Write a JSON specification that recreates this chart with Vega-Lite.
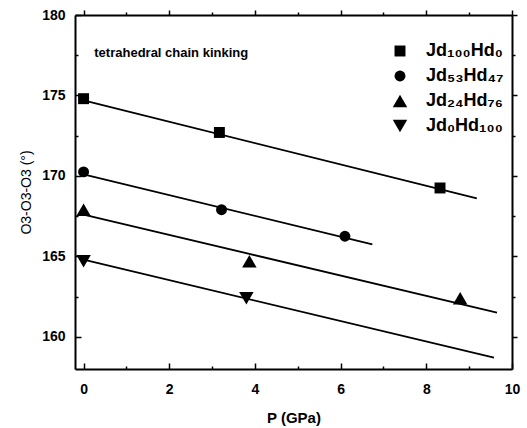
{
  "$schema": "https://vega.github.io/schema/vega-lite/v6.json",
  "width": 437,
  "height": 354,
  "autosize": {"type": "none"},
  "padding": {"left": 75, "top": 15, "right": 15, "bottom": 59},
  "background": "white",
  "config": {
    "font": "Liberation Sans",
    "axis": {
      "domainColor": "black",
      "domainWidth": 2,
      "tickColor": "black",
      "tickWidth": 1.5,
      "grid": false,
      "labelFlush": false,
      "labelColor": "black",
      "labelFont": "Liberation Sans",
      "labelFontSize": 14,
      "labelFontWeight": "bold",
      "titleColor": "black",
      "titleFont": "Liberation Sans"
    },
    "legend": {
      "orient": "none",
      "legendX": 316,
      "legendY": 27,
      "padding": 0,
      "labelFont": "Liberation Sans",
      "labelFontSize": 18,
      "labelFontWeight": "bold",
      "labelColor": "black",
      "symbolFillColor": "black",
      "symbolStrokeColor": "black",
      "symbolStrokeWidth": 0,
      "rowPadding": 7,
      "labelOffset": 17
    }
  },
  "datasets": {
    "points": [
      {"P": 0, "angle": 174.8, "series": "Jd₁₀₀Hd₀"},
      {"P": 3.17, "angle": 172.7, "series": "Jd₁₀₀Hd₀"},
      {"P": 8.32, "angle": 169.25, "series": "Jd₁₀₀Hd₀"},
      {"P": 0, "angle": 170.25, "series": "Jd₅₃Hd₄₇"},
      {"P": 3.22, "angle": 167.9, "series": "Jd₅₃Hd₄₇"},
      {"P": 6.1, "angle": 166.25, "series": "Jd₅₃Hd₄₇"},
      {"P": 0, "angle": 167.9, "series": "Jd₂₄Hd₇₆"},
      {"P": 3.87, "angle": 164.7, "series": "Jd₂₄Hd₇₆"},
      {"P": 8.79, "angle": 162.4, "series": "Jd₂₄Hd₇₆"},
      {"P": 0, "angle": 164.7, "series": "Jd₀Hd₁₀₀"},
      {"P": 3.8, "angle": 162.4, "series": "Jd₀Hd₁₀₀"}
    ],
    "lines": [
      {"P": 0, "angle": 174.7, "series": "Jd₁₀₀Hd₀"},
      {"P": 9.18, "angle": 168.6, "series": "Jd₁₀₀Hd₀"},
      {"P": 0, "angle": 170.1, "series": "Jd₅₃Hd₄₇"},
      {"P": 6.74, "angle": 165.75, "series": "Jd₅₃Hd₄₇"},
      {"P": 0, "angle": 167.6, "series": "Jd₂₄Hd₇₆"},
      {"P": 9.65, "angle": 161.5, "series": "Jd₂₄Hd₇₆"},
      {"P": 0, "angle": 164.8, "series": "Jd₀Hd₁₀₀"},
      {"P": 9.58, "angle": 158.7, "series": "Jd₀Hd₁₀₀"}
    ],
    "note": [
      {"P": 0.25, "angle": 177.65, "label": "tetrahedral chain kinking"}
    ]
  },
  "layer": [
    {
      "data": {"name": "lines"},
      "mark": {"type": "line", "color": "black", "strokeWidth": 1.8},
      "encoding": {
        "x": {
          "field": "P", "type": "quantitative",
          "scale": {"domain": [-0.2, 10], "nice": false, "zero": false},
          "axis": {
            "orient": "bottom",
            "values": [0, 1, 2, 3, 4, 5, 6, 7, 8, 9, 10],
            "labelExpr": "datum.value % 2 === 0 ? datum.label : ''",
            "tickSize": {"condition": {"test": "datum.value % 2 === 0", "value": -6}, "value": -3},
            "labelPadding": 19,
            "title": "P (GPa)",
            "titleFontSize": 15,
            "titleFontWeight": "bold",
            "titlePadding": 14
          }
        },
        "y": {
          "field": "angle", "type": "quantitative",
          "scale": {"domain": [158, 180], "nice": false, "zero": false},
          "axis": {
            "orient": "left",
            "values": [160, 162.5, 165, 167.5, 170, 172.5, 175, 177.5, 180],
            "labelExpr": "datum.value % 5 === 0 ? datum.label : ''",
            "tickSize": {"condition": {"test": "datum.value % 5 === 0", "value": -6}, "value": -3},
            "labelPadding": 16,
            "title": "O3-O3-O3 (°)",
            "titleFontSize": 14,
            "titleFontWeight": "normal",
            "titlePadding": 8
          }
        },
        "detail": {"field": "series"}
      }
    },
    {
      "data": {"name": "points"},
      "mark": {"type": "point", "filled": true, "color": "black", "opacity": 1},
      "encoding": {
        "x": {
          "field": "P", "type": "quantitative",
          "scale": {"domain": [-0.2, 10], "nice": false, "zero": false},
          "axis": {
            "orient": "top",
            "values": [0, 1, 2, 3, 4, 5, 6, 7, 8, 9, 10],
            "labels": true,
            "labelExpr": "datum.value % 2 === 0 ? datum.label : ''",
            "labelColor": "white",
            "labelFontSize": 4,
            "labelPadding": 1,
            "title": null,
            "domainColor": "black",
            "domainWidth": 2,
            "tickColor": "black",
            "tickWidth": 1.5,
            "tickSize": {"condition": {"test": "datum.value % 2 === 0", "value": 5}, "value": 3}
          }
        },
        "y": {
          "field": "angle", "type": "quantitative",
          "scale": {"domain": [158, 180], "nice": false, "zero": false},
          "axis": {
            "orient": "right",
            "values": [160, 162.5, 165, 167.5, 170, 172.5, 175, 177.5, 180],
            "labels": true,
            "labelExpr": "datum.value % 5 === 0 ? datum.label : ''",
            "labelColor": "white",
            "labelFontSize": 4,
            "labelPadding": 1,
            "title": null,
            "domainColor": "black",
            "domainWidth": 2,
            "tickColor": "black",
            "tickWidth": 1.5,
            "tickSize": {"condition": {"test": "datum.value % 5 === 0", "value": 5}, "value": 3}
          }
        },
        "shape": {
          "field": "series", "type": "nominal",
          "scale": {
            "domain": ["Jd₁₀₀Hd₀", "Jd₅₃Hd₄₇", "Jd₂₄Hd₇₆", "Jd₀Hd₁₀₀"],
            "range": ["square", "circle", "triangle-up", "triangle-down"]
          },
          "legend": {"title": null}
        },
        "size": {
          "field": "series", "type": "ordinal",
          "scale": {
            "type": "ordinal",
            "domain": ["Jd₁₀₀Hd₀", "Jd₅₃Hd₄₇", "Jd₂₄Hd₇₆", "Jd₀Hd₁₀₀"],
            "range": [120, 120, 210, 210]
          },
          "legend": {"title": null}
        }
      }
    },
    {
      "data": {"name": "note"},
      "mark": {"type": "text", "align": "left", "baseline": "middle", "font": "Liberation Sans", "fontSize": 13, "fontWeight": "bold", "color": "black"},
      "encoding": {
        "x": {"field": "P", "type": "quantitative", "axis": null},
        "y": {"field": "angle", "type": "quantitative", "axis": null},
        "text": {"field": "label"}
      }
    }
  ],
  "resolve": {"axis": {"x": "independent", "y": "independent"}}
}
